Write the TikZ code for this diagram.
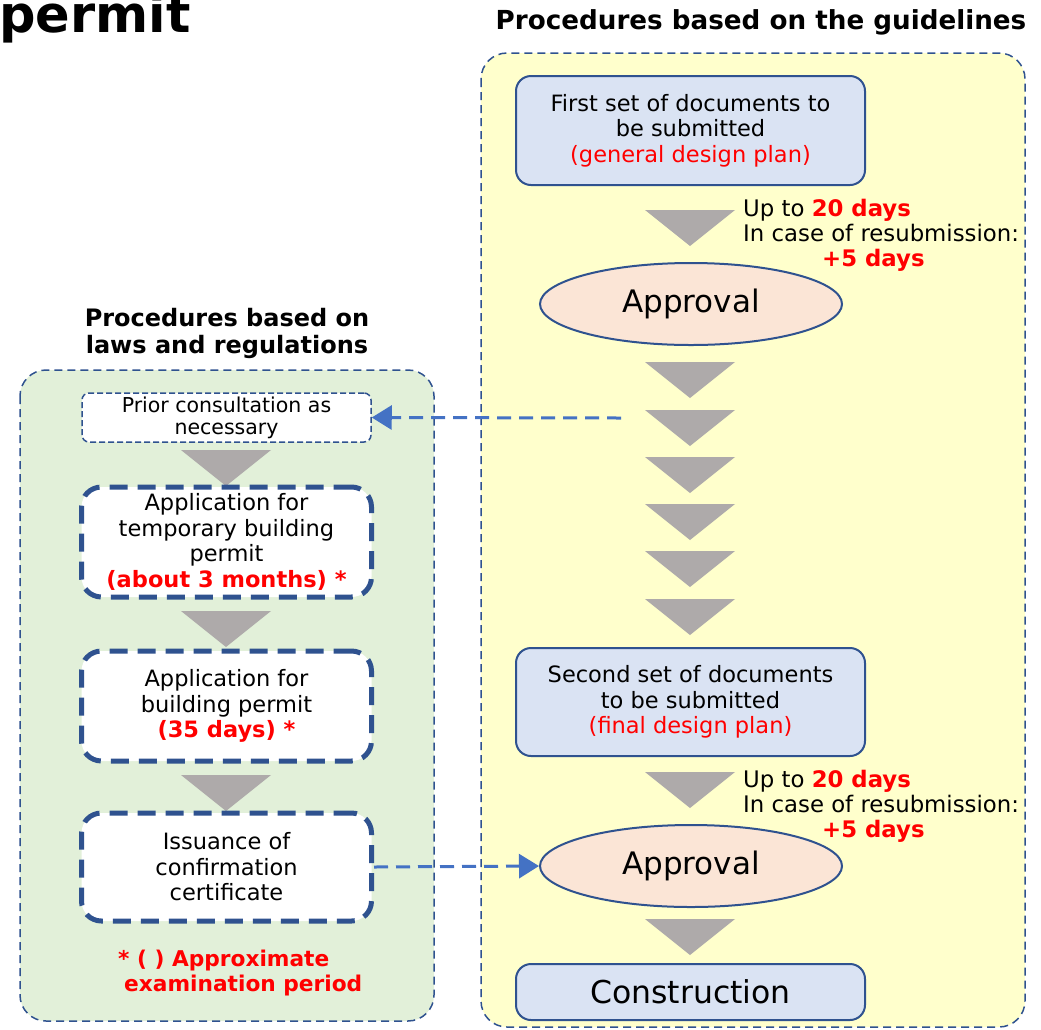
\documentclass[tikz,border=0pt]{standalone}
\usepackage{fontspec}
\setmainfont{DejaVu Sans}
\usetikzlibrary{arrows.meta,shapes.geometric}
\definecolor{ybg}{HTML}{FFFFCC}
\definecolor{gbg}{HTML}{E2F0D9}
\definecolor{bbox}{HTML}{DAE3F3}
\definecolor{dkblue}{HTML}{2F528F}
\definecolor{salmon}{HTML}{FBE5D6}
\definecolor{trigray}{HTML}{AEAAAA}
\definecolor{arblue}{HTML}{4472C4}
\definecolor{myred}{HTML}{FF0000}
\tikzset{
  container/.style={draw=dkblue, line width=1.5pt, dash pattern=on 8pt off 5pt, rounded corners=26pt},
  docbox/.style={draw=dkblue, fill=bbox, line width=2pt, rounded corners=15pt, align=center, minimum width=349pt, inner sep=0pt},
  approval/.style={ellipse, draw=dkblue, fill=salmon, line width=2pt, minimum width=302pt, minimum height=82pt, inner sep=0pt, font=\fontsize{31}{36}\selectfont},
  lawbox/.style={draw=dkblue, fill=white, line width=5pt, dash pattern=on 18pt off 10pt, rounded corners=20pt, align=center, minimum width=290pt, inner sep=0pt},
  priorbox/.style={draw=dkblue, fill=white, line width=1.5pt, dash pattern=on 6pt off 3pt, rounded corners=7pt, align=center, minimum width=289pt, minimum height=49pt, inner sep=0pt, font=\fontsize{20.5}{22}\selectfont},
  tri/.style={fill=trigray},
  link/.style={draw=arblue, line width=3pt, dash pattern=on 14pt off 8pt, -{Triangle[length=20pt,width=24pt]}},
  body/.style={font=\fontsize{22.5}{25.5}\selectfont},
  note/.style={font=\fontsize{22.8}{25}\selectfont, inner sep=0pt},
  heading/.style={font=\bfseries\fontsize{24}{27}\selectfont, align=center, inner sep=0pt},
}
\newcommand{\tridown}[2]{\fill[tri] (#1-45,#2) -- (#1+45,#2) -- (#1,#2+36) -- cycle;}
\newcommand{\rb}[1]{\textcolor{myred}{\bfseries #1}}
\begin{document}
\begin{tikzpicture}[x=1pt,y=-1pt]
\useasboundingbox (0,0) rectangle (1041,1029);
\begin{scope}
\clip (0,0) rectangle (1041,1029);
% title
\node[anchor=base west, inner sep=0pt, font=\bfseries\fontsize{51}{56}\selectfont] (title) at (-1,32) {permit};
% containers
\node[heading, font=\bfseries\fontsize{26.2}{30}\selectfont] (rhead) at (761,22) {Procedures based on the guidelines};
\draw[container, fill=ybg] (481,53) rectangle (1025,1027);
\node[heading] (lhead) at (227,333) {Procedures based on\\laws and regulations};
\draw[container, fill=gbg] (20,370) rectangle (434,1021);

% right column
\node[docbox, body, minimum height=109pt] (doc1) at (690.5,130.5) {First set of documents to\\be submitted\\\textcolor{myred}{(general design plan)}};
\tridown{690}{210}
\node[note, anchor=base west] (d1a) at (743,216) {Up to \rb{20 days}};
\node[note, anchor=base west] (d1b) at (743,241) {In case of resubmission:};
\node[note, anchor=base west] (d1c) at (822,266) {\rb{+5 days}};
\node[approval] (ap1) at (691,304) {Approval};
\tridown{690}{362}
\tridown{690}{410}
\tridown{690}{457}
\tridown{690}{504}
\tridown{690}{551}
\tridown{690}{599}
\node[docbox, body, minimum height=108pt] (doc2) at (690.5,702) {Second set of documents\\to be submitted\\\textcolor{myred}{(final design plan)}};
\tridown{690}{772}
\node[note, anchor=base west] (d2a) at (743,787) {Up to \rb{20 days}};
\node[note, anchor=base west] (d2b) at (743,812) {In case of resubmission:};
\node[note, anchor=base west] (d2c) at (822,837) {\rb{+5 days}};
\node[approval] (ap2) at (691,866) {Approval};
\tridown{690}{919}
\node[docbox, minimum height=56pt, font=\fontsize{31.5}{36}\selectfont] (cons) at (690.5,992) {Construction};

% left column
\node[priorbox] (prior) at (226.5,417.5) {Prior consultation as\\necessary};
\tridown{226}{450}
\node[lawbox, body, minimum height=110pt] (temp) at (226.5,542) {Application for\\temporary building\\permit\\\rb{(about 3 months) *}};
\tridown{226}{611}
\node[lawbox, body, minimum height=110pt] (build) at (226.5,706) {Application for\\building permit\\\rb{(35 days) *}};
\tridown{226}{775}
\node[lawbox, body, minimum height=108pt] (issue) at (226.5,867) {Issuance of\\confirmation\\certificate};
\node[anchor=west, inner sep=0pt, align=left, text=myred, font=\bfseries\fontsize{21.7}{25}\selectfont] (foot) at (118,973) {* ( ) Approximate\\\hspace*{6pt}examination period};

% links
\coordinate (from1) at (621,418);
\draw[link] (from1) -- (prior.east);
\draw[link] (issue.east) -- (ap2.west);
\end{scope}
\end{tikzpicture}
\end{document}
